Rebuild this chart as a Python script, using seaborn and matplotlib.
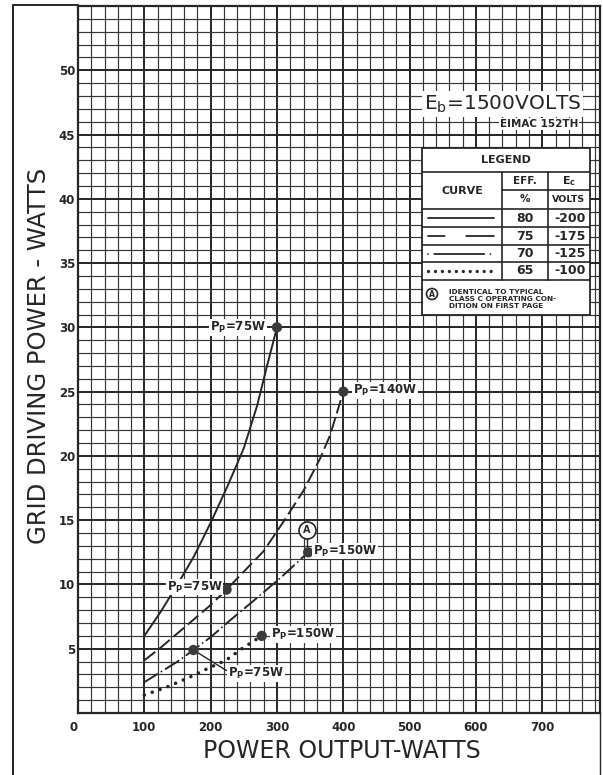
import numpy as np
import pandas as pd
import seaborn as sns
import matplotlib.pyplot as plt
from matplotlib.lines import Line2D
from matplotlib.patches import Rectangle, Circle

# curves: power output (W) vs grid driving power (W)
out_80 = [100, 125, 150, 175, 200, 225, 250, 270, 285, 300]
grid_80 = [6.0, 7.9, 10.0, 12.2, 14.8, 17.6, 20.6, 23.9, 27.0, 30.0]
out_75 = [100, 125, 150, 175, 200, 224, 250, 280, 310, 340, 365, 380, 400]
grid_75 = [4.1, 5.1, 6.2, 7.3, 8.4, 9.6, 11.0, 12.6, 14.9, 17.3, 19.8, 21.6, 25.0]
out_70 = [100, 125, 150, 174, 200, 229, 264, 305, 326, 347]
grid_70 = [2.4, 3.2, 4.0, 4.9, 5.9, 7.2, 8.7, 10.5, 11.5, 12.5]
out_65 = [100, 133, 169, 193, 223, 247, 265, 277]
grid_65 = [1.4, 2.0, 2.8, 3.4, 4.1, 5.0, 5.6, 6.0]

# marked operating points (plate dissipation)
pt_out = [300, 400, 224, 347, 174, 277]
pt_grid = [30.0, 25.0, 9.6, 12.5, 4.9, 6.0]
pt_text = ['75W', '140W', '75W', '150W', '75W', '150W']

# legend table
eff_pct = ['80', '75', '70', '65']
ec_volts = ['-200', '-175', '-125', '-100']

xtick_vals = [0, 100, 200, 300, 400, 500, 600, 700]
ytick_vals = [5, 10, 15, 20, 25, 30, 35, 40, 45, 50]

sns.set_style('white')
plt.rcParams['font.family'] = ['DejaVu Sans']
plt.rcParams['lines.scale_dashes'] = False
ink = '#262626'

fig = plt.figure(figsize=(6.03, 7.75), dpi=100)
ax = fig.add_axes([78 / 603, 1 - 713 / 775, 522 / 603, 707 / 775])
ax.set_xlim(0, 787)
ax.set_ylim(0, 55)
ax.set_facecolor('white')

# graph paper
ax.set_xticks(np.arange(0, 787, 100))
ax.set_xticks(np.arange(0, 787, 20), minor=True)
ax.set_yticks(np.arange(0, 56, 5))
ax.set_yticks(np.arange(0, 56, 1), minor=True)
ax.set_xticklabels([str(v) if v in xtick_vals else '' for v in np.arange(0, 787, 100)])
ax.set_yticklabels([str(v) if v in ytick_vals else '' for v in np.arange(0, 56, 5)])
ax.grid(which='major', color=ink, lw=1.4)
ax.grid(which='minor', color='#363636', lw=0.85)
ax.set_axisbelow(True)
ax.tick_params(which='both', length=0)
ax.tick_params(axis='x', pad=6, labelsize=8.5)
ax.tick_params(axis='y', pad=2, labelsize=8.5)
for lab in ax.get_xticklabels() + ax.get_yticklabels():
    lab.set_fontweight('bold')
    lab.set_color(ink)
ax.get_xticklabels()[0].set_ha('right')
for sp in ax.spines.values():
    sp.set_visible(True)
    sp.set_color(ink)
    sp.set_linewidth(1.6)

# curves
curves = [
    (out_80, grid_80, '-', 1.4, 'butt'),
    (out_75, grid_75, (0, (10, 3.5)), 1.4, 'butt'),
    (out_70, grid_70, (0, (11, 3.5, 0.01, 3.5)), 1.4, 'round'),
    (out_65, grid_65, (0, (0.01, 6)), 2.6, 'round'),
]
for xs, ys, ls, lw, cap in curves:
    sns.lineplot(x=xs, y=ys, ax=ax, color=ink, lw=lw, linestyle=ls,
                 sort=False, estimator=None, dash_capstyle=cap, zorder=3)

sns.scatterplot(x=pt_out, y=pt_grid, ax=ax, s=55, color='#3a3a3a',
                edgecolor='none', zorder=5)

# point labels
label_at = [(283, 30.0, 'right'), (414, 25.1, 'left'), (218, 9.8, 'right'),
            (354, 12.6, 'left'), (226, 3.1, 'left'), (291, 6.1, 'left')]
for txt, (lx, ly, ha) in zip(pt_text, label_at):
    ax.text(lx, ly, 'P$_{\\mathbf{P}}$=' + txt, ha=ha, va='center', fontsize=8.5,
            fontweight='bold', color=ink, zorder=6,
            bbox=dict(fc='white', ec='none', pad=0.6))
ax.plot([pt_out[4], 224], [pt_grid[4], 3.3], color=ink, lw=1.0, zorder=4)

# circled A above the 150W point
ax.plot([345, 345], [12.6, 13.6], color=ink, lw=1.0, zorder=4)
ax.scatter([345], [14.2], s=150, facecolor='white', edgecolor=ink, lw=1.2, zorder=6)
ax.text(345, 14.2, 'A', ha='center', va='center', fontsize=7, fontweight='bold',
        color=ink, zorder=7)

ax.set_xlabel('POWER OUTPUT-WATTS', fontsize=17, color=ink)
ax.set_ylabel('GRID DRIVING POWER - WATTS', fontsize=17.5, color=ink)
ax.xaxis.set_label_coords(0.505, -0.037)
ax.yaxis.set_label_coords(-0.052, 0.505)

# overlay in pixel coordinates for the frame, title block and legend table
ov = fig.add_axes([0, 0, 1, 1], zorder=10)
ov.set_xlim(0, 603)
ov.set_ylim(775, 0)
ov.axis('off')
ov.patch.set_visible(False)

ov.add_line(Line2D([13, 13], [5, 775], color=ink, lw=1.4))
ov.add_line(Line2D([13, 78], [5, 5], color=ink, lw=1.4))
ov.add_line(Line2D([600, 600], [713, 775], color=ink, lw=1.0))

ov.text(581, 104, 'E$_\\mathrm{b}$=1500VOLTS', ha='right', va='center', fontsize=14.5,
        color=ink, bbox=dict(fc='white', ec='none', pad=1.5))
ov.text(578, 124, 'EIMAC 152TH', ha='right', va='center', fontsize=7.5,
        fontweight='bold', color=ink, bbox=dict(fc='white', ec='none', pad=0.5))

L, R, c1, c2 = 422, 590, 502, 548
ov.add_patch(Rectangle((L, 148), R - L, 315 - 148, fc='white', ec=ink, lw=1.3))
for yy in [172, 209, 227, 245, 262, 280]:
    ov.add_line(Line2D([L, R], [yy, yy], color=ink, lw=1.2))
ov.add_line(Line2D([c1, R], [190, 190], color=ink, lw=1.2))
for xx in [c1, c2]:
    ov.add_line(Line2D([xx, xx], [172, 280], color=ink, lw=1.2))

hdr = dict(ha='center', va='center', fontweight='bold', color=ink)
ov.text((L + R) / 2, 160, 'LEGEND', fontsize=8, **hdr)
ov.text((L + c1) / 2, 190.5, 'CURVE', fontsize=8, **hdr)
ov.text((c1 + c2) / 2, 181, 'EFF.', fontsize=7.5, **hdr)
ov.text((c2 + R) / 2, 181, 'E$_\\mathbf{c}$', fontsize=8, **hdr)
ov.text((c1 + c2) / 2, 199.5, '%', fontsize=7.5, **hdr)
ov.text((c2 + R) / 2, 199.5, 'VOLTS', fontsize=6.8, **hdr)

row_y = [218, 236, 253.5, 271]
samples = ['-', (0, (12, 15.5, 20, 30)), (0, (0.01, 4.5, 36, 4.5, 0.01, 50)),
           (0, (0.01, 5))]
sample_w = [1.3, 1.3, 1.3, 2.4]
for yy, e, v, ls, lw in zip(row_y, eff_pct, ec_volts, samples, sample_w):
    ov.text((c1 + c2) / 2, yy, e, fontsize=9, **hdr)
    ov.text((c2 + R) / 2 + 1, yy, v, fontsize=9, **hdr)
    ov.add_line(Line2D([428, 494], [yy, yy], color=ink, lw=lw, linestyle=ls,
                       dash_capstyle='round'))

ov.add_patch(Circle((432, 294), 5.5, fc='white', ec=ink, lw=1.2))
ov.text(432, 294.5, 'A', fontsize=5.5, **hdr)
ov.text(449, 299, 'IDENTICAL TO TYPICAL\nCLASS C OPERATING CON-\nDITION ON FIRST PAGE',
        ha='left', va='center', fontsize=5.3, fontweight='bold', color=ink,
        linespacing=1.15)

fig.savefig('out.png', dpi=100, facecolor='white')
